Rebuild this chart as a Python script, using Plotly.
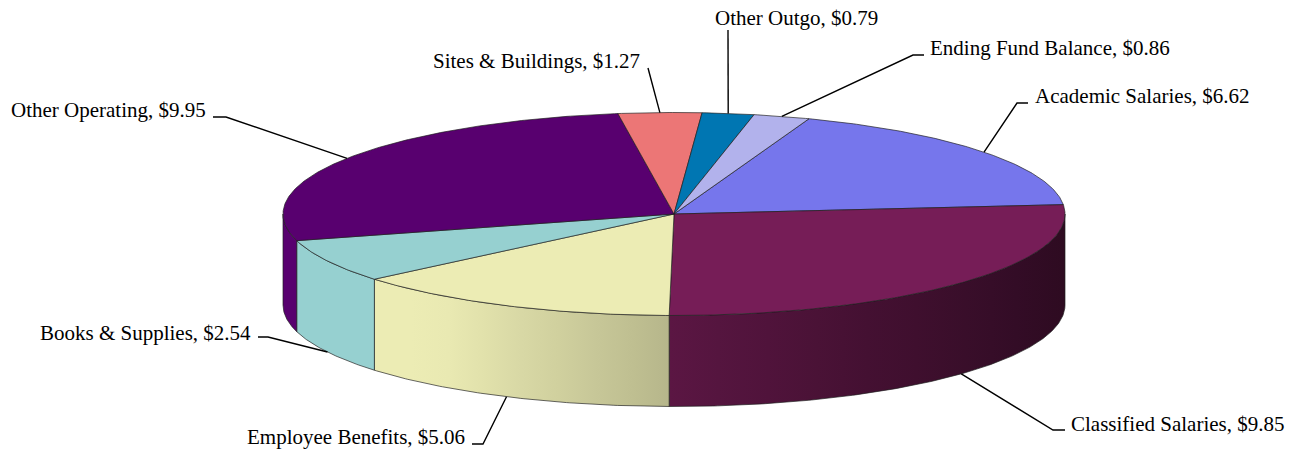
import numpy as np
import plotly.graph_objects as go

# -------------- data --------------
categories = ["Academic Salaries", "Classified Salaries", "Employee Benefits", "Books & Supplies",
              "Other Operating", "Sites & Buildings", "Other Outgo", "Ending Fund Balance"]
values = [6.62, 9.85, 5.06, 2.54, 9.95, 1.27, 0.79, 0.86]
colors = ["#7676EC", "#761D57", "#ECECB4", "#96D0D0", "#58006F", "#EC7676", "#0076B2", "#B2B2EC"]

# -------------- pie geometry (pixels) --------------
W, H = 1294, 451
cx, cy = 674, 214          # centre of the top face
rx, ry = 391, 101.5        # ellipse radii of the top face
depth = 91                 # thickness of the pie
rotation = 20.2            # first slice starts here, clockwise from 12 o'clock

# label placement: text position, anchor, elbow points of the leader line
label_style = {
    "Academic Salaries":   dict(tx=1033, ty=96,  anchor="left",  path=[(1017, 103), (1028, 103)]),
    "Classified Salaries": dict(tx=1069, ty=424, anchor="left",  path=[(1053, 430), (1065, 430)]),
    "Employee Benefits":   dict(tx=467,  ty=437, anchor="right", path=[(483, 444), (472, 444)]),
    "Books & Supplies":    dict(tx=253,  ty=333, anchor="right", path=[(268, 337), (258, 337)]),
    "Other Operating":     dict(tx=208,  ty=110, anchor="right", path=[(226, 117), (213, 117)]),
    "Sites & Buildings":   dict(tx=642,  ty=61,  anchor="right", path=[(648, 68)]),
    "Other Outgo":         dict(tx=713,  ty=18,  anchor="left",  path=[(728, 30)]),
    "Ending Fund Balance": dict(tx=928,  ty=48,  anchor="left",  path=[(913, 55), (924, 55)]),
}


def rim(theta_deg, drop=0.0):
    t = np.radians(theta_deg)
    return cx + rx * np.sin(t), cy - ry * np.cos(t) + drop


def hex_rgb(h):
    h = h.lstrip("#")
    return tuple(int(h[i:i + 2], 16) for i in (0, 2, 4))


def shade(h, x):
    # light comes from the left: side walls get darker towards the right
    f = float(np.clip(0.77 - 0.38 * (x - cx) / rx, 0, 1))
    r, g, b = hex_rgb(h)
    return f"rgb({int(r * f)},{int(g * f)},{int(b * f)})"


total = sum(values)
spans = [v / total * 360 for v in values]
starts = rotation + np.concatenate([[0], np.cumsum(spans)[:-1]])

fig = go.Figure()
edge = dict(color="rgba(30,30,30,0.85)", width=0.8)

# -------------- side walls (front half only) --------------
for name, col, a0, sp in zip(categories, colors, starts, spans):
    a = a0 % 360
    b = a + sp
    for lo, hi in ((90, 270), (450, 630)):
        s, e = max(a, lo), min(b, hi)
        if e <= s:
            continue
        th = np.linspace(s, e, max(int(e - s) * 2, 4))
        xt, yt = rim(th)
        xb, yb = rim(th[::-1], depth)
        xs = np.concatenate([xt, xb, xt[:1]])
        ys = np.concatenate([yt, yb, yt[:1]])
        xmin, xmax = xs.min(), xs.max()
        stops = np.linspace(0, 1, 9)
        cs = [[float(p), shade(col, xmin + p * (xmax - xmin))] for p in stops]
        fig.add_trace(go.Scatter(x=xs, y=ys, mode="lines", fill="toself",
                                 fillgradient=dict(type="horizontal", colorscale=cs),
                                 line=edge, hoverinfo="skip"))

# -------------- top faces --------------
for name, col, a0, sp, v in zip(categories, colors, starts, spans, values):
    th = np.linspace(a0, a0 + sp, max(int(sp) * 2, 4))
    xa, ya = rim(th)
    xs = np.concatenate([[cx], xa, [cx]])
    ys = np.concatenate([[cy], ya, [cy]])
    fig.add_trace(go.Scatter(x=xs, y=ys, mode="lines", fill="toself", fillcolor=col,
                             line=edge, name=name, hoverinfo="text",
                             text=f"{name}, ${v:.2f}"))

# -------------- leader lines and labels --------------
for name, a0, sp, v in zip(categories, starts, spans, values):
    mid = a0 + sp / 2
    front = np.cos(np.radians(mid)) < 0
    px0, py0 = rim(mid, depth if front else 0)
    st = label_style[name]
    lx = [px0] + [p[0] for p in st["path"]]
    ly = [py0] + [p[1] for p in st["path"]]
    fig.add_trace(go.Scatter(x=lx, y=ly, mode="lines", line=dict(color="black", width=1.4),
                             hoverinfo="skip"))
    fig.add_annotation(x=st["tx"], y=st["ty"], text=f"{name}, ${v:.2f}", showarrow=False,
                       xanchor=st["anchor"], yanchor="middle",
                       font=dict(family="Liberation Serif", size=21, color="black"))

fig.update_xaxes(range=[0, W], visible=False, fixedrange=True)
fig.update_yaxes(range=[H, 0], visible=False, fixedrange=True)
fig.update_layout(width=W, height=H, margin=dict(l=0, r=0, t=0, b=0),
                  showlegend=False, plot_bgcolor="white", paper_bgcolor="white")

fig.write_html("out.html", config={"displayModeBar": False},
               post_script="document.body.style.margin='0';document.body.style.overflow='hidden';")
